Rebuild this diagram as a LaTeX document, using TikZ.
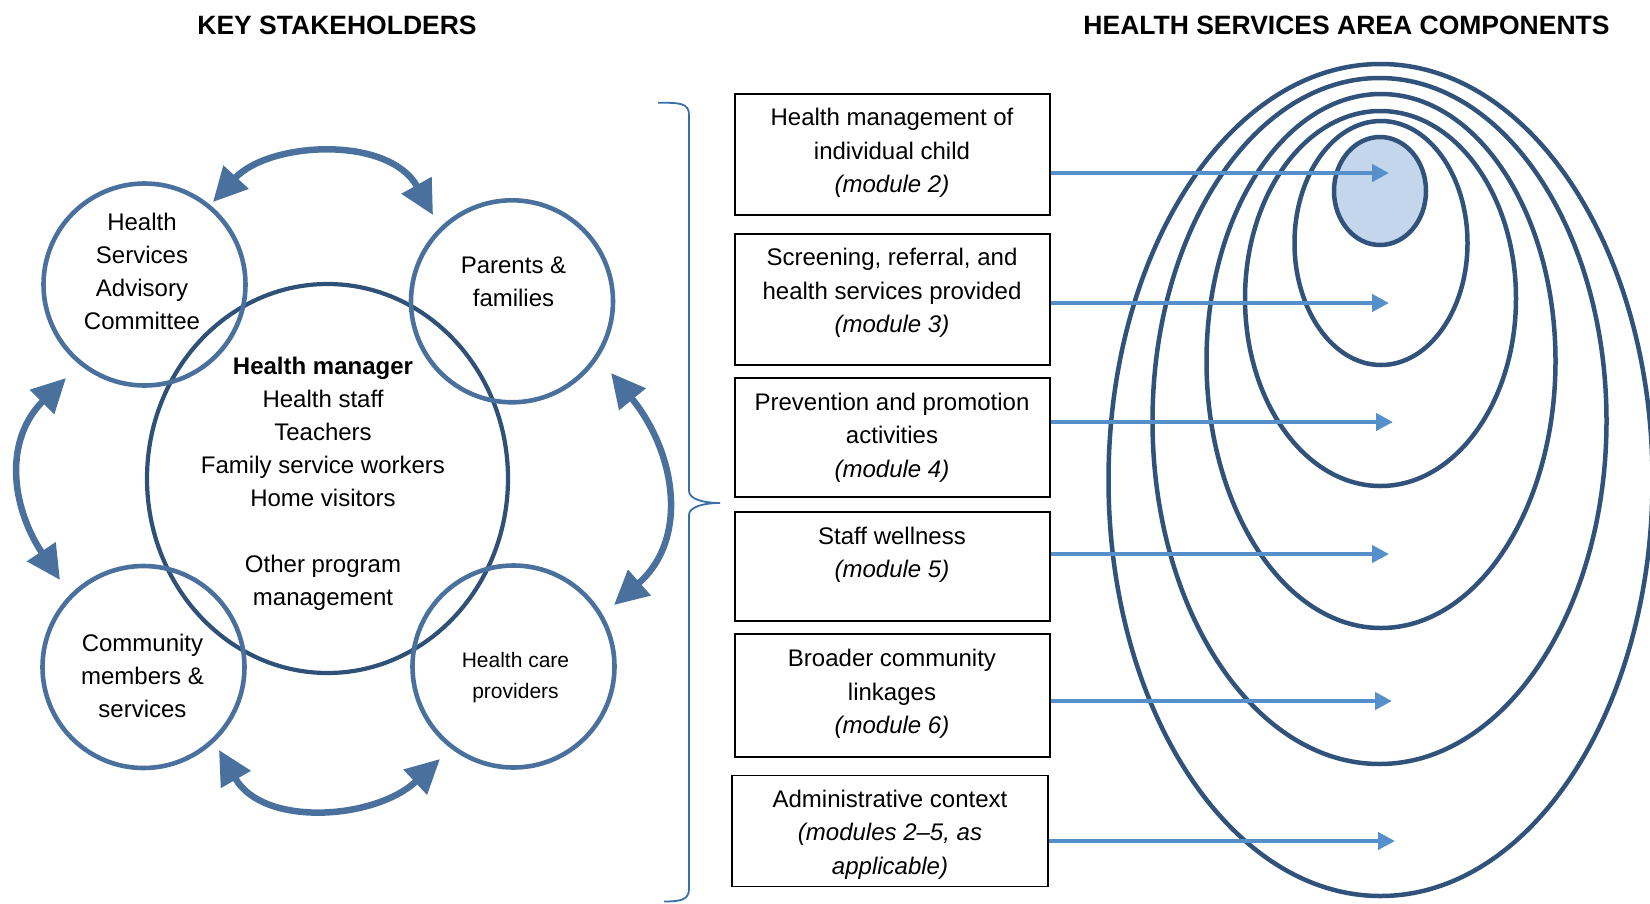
\documentclass[tikz,border=0pt]{standalone}
\usepackage{fontspec}
\setmainfont{Liberation Sans}
\usetikzlibrary{arrows.meta,calc,shapes.geometric}

\definecolor{ringblue}{HTML}{4A719E}
\definecolor{hubnavy}{HTML}{2F5077}
\definecolor{layernavy}{HTML}{31537B}
\definecolor{pointerblue}{HTML}{5690CA}
\definecolor{corefill}{HTML}{C3D6EB}
\definecolor{braceblue}{HTML}{3A6EA8}

\tikzset{
  heading/.style={font=\bfseries\fontsize{26.5}{30}\selectfont, inner sep=0pt},
  stakeholder/.style={circle, draw=ringblue, line width=4.6pt, minimum size=202pt, inner sep=0pt},
  hub/.style={ellipse, draw=hubnavy, line width=4.2pt, minimum width=361pt, minimum height=389pt, inner sep=0pt},
  roletext/.style={anchor=north, align=center, inner sep=0pt, font=\fontsize{24}{33}\selectfont},
  smallroletext/.style={anchor=north, align=center, inner sep=0pt, font=\fontsize{21}{31}\selectfont},
  cycle arrow/.style={draw=ringblue, line width=6.5pt, >={Triangle[length=34pt,width=33pt]}, <->},
  modbox/.style={draw=black, line width=2pt, inner sep=0pt, minimum width=315pt},
  modtext/.style={anchor=north, align=center, inner sep=0pt, font=\fontsize{24}{33.5}\selectfont},
  pointer/.style={draw=pointerblue, line width=4.6pt, >={Triangle[length=17pt,width=17pt]}, ->},
  layer/.style={draw=layernavy, line width=4.5pt},
  brace/.style={draw=braceblue, line width=1.8pt},
}

\begin{document}
\begin{tikzpicture}[x=1pt,y=-1pt]
\useasboundingbox (0,0) rectangle (1650,903);

% column headings
\node[heading] (kshead) at (337,25) {KEY STAKEHOLDERS};
\node[heading] (hsahead) at (1346.5,25) {HEALTH SERVICES AREA COMPONENTS};

% stakeholder circles
\node[hub] (hub) at (327.5,478.5) {};
\node[stakeholder] (hsac) at (144.5,284.5) {};
\node[stakeholder] (par) at (512,301.3) {};
\node[stakeholder] (comm) at (143.5,667) {};
\node[stakeholder] (hcp) at (513.5,666.5) {};

\node[roletext] (hubtext) at (323,357.1) {\textbf{Health manager}\\Health staff\\Teachers\\Family service workers\\Home visitors\\[33pt]Other program\\management};
\node[roletext] (hsactext) at (142,213.1) {Health\\Services\\Advisory\\Committee};
\node[roletext] (partext) at (513.5,257.1) {Parents \&\\families};
\node[roletext] (commtext) at (142.5,634.1) {Community\\members \&\\services};
\node[smallroletext] (hcptext) at (515.5,652.2) {Health care\\providers};

% two-way arrows between neighbouring stakeholders
\draw[cycle arrow] ($(hsac)+(68.5,-82.5)$) .. controls +(56,-60.5) and +(-44.5,-80) .. ($(par)+(-79,-86.3)$);
\draw[cycle arrow] ($(par)+(99,71.7)$) .. controls +(64,78.3) and +(76,-67) .. ($(hcp)+(100.5,-61.5)$);
\draw[cycle arrow] ($(comm)+(75.5,83)$) .. controls +(44.5,77.5) and +(-65,60.7) .. ($(hcp)+(-73.5,92.5)$);
\draw[cycle arrow] ($(hsac)+(-78.5,93.5)$) .. controls +(-62.4,62.4) and +(-49,-74) .. ($(comm)+(-83.5,-87)$);

% brace grouping the module boxes
\draw[brace] (658,102.7) .. controls (680,102.7) and (689,103) .. (689,115)
  -- (689,491) .. controls (689,499) and (703,503) .. (720,503)
  .. controls (703,503) and (689,507) .. (689,515)
  -- (689,889) .. controls (689,900) and (680,901.5) .. (664,901.5);

% module boxes
\node[modbox, minimum height=121pt] (m2) at (892,154.3) {};
\node[modbox, minimum height=131pt] (m3) at (892,299) {};
\node[modbox, minimum height=118.8pt] (m4) at (892,437.8) {};
\node[modbox, minimum height=109pt] (m5) at (892,566.6) {};
\node[modbox, minimum height=122.6pt] (m6) at (892,695.7) {};
\node[modbox, minimum width=316pt, minimum height=111pt, line width=1.6pt] (adm) at (890,830.8) {};

\node[modtext] (m2t) at ([yshift=-15.5pt]m2.north) {Health management of\\individual child\\\textit{(module 2)}};
\node[modtext] (m3t) at ([yshift=-15.5pt]m3.north) {Screening, referral, and\\health services provided\\\textit{(module 3)}};
\node[modtext] (m4t) at ([yshift=-15.5pt]m4.north) {Prevention and promotion\\activities\\\textit{(module 4)}};
\node[modtext] (m5t) at ([yshift=-15.5pt]m5.north) {Staff wellness\\\textit{(module 5)}};
\node[modtext] (m6t) at ([yshift=-15.5pt]m6.north) {Broader community\\linkages\\\textit{(module 6)}};
\node[modtext] (admt) at ([yshift=-15pt]adm.north) {Administrative context\\\textit{(modules 2–5, as}\\\textit{applicable)}};

% nested service layers
\draw[layer] (1380.5,480) ellipse [x radius=272pt, y radius=416pt];
\draw[layer] (1379.5,421) ellipse [x radius=227pt, y radius=343pt];
\draw[layer] (1381,361) ellipse [x radius=174.5pt, y radius=267pt];
\draw[layer] (1380.5,298.5) ellipse [x radius=135.5pt, y radius=187.5pt];
\draw[layer] (1381,243) ellipse [x radius=86.5pt, y radius=122pt];
\draw[layer, fill=corefill] (1380,191) ellipse [x radius=46pt, y radius=54pt];

% pointers from modules into the layers
\coordinate (c2) at (1389,173);
\coordinate (c3) at (1389,303);
\coordinate (c4) at (1393,422);
\coordinate (c5) at (1389,554);
\coordinate (c6) at (1392,701);
\coordinate (cadm) at (1395,841);
\draw[pointer] (m2.east |- c2) -- (c2);
\draw[pointer] (m3.east |- c3) -- (c3);
\draw[pointer] (m4.east |- c4) -- (c4);
\draw[pointer] (m5.east |- c5) -- (c5);
\draw[pointer] (m6.east |- c6) -- (c6);
\draw[pointer] (adm.east |- cadm) -- (cadm);
\end{tikzpicture}
\end{document}
